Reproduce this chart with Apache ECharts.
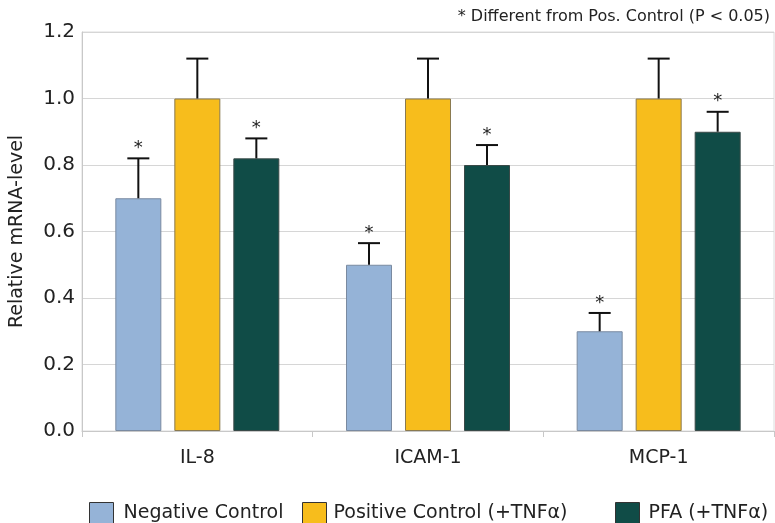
<!DOCTYPE html>
<html>
<head>
<meta charset="utf-8">
<script src="https://cdn.jsdelivr.net/npm/echarts@6/dist/echarts.min.js"></script>
<style>html,body{margin:0;padding:0;background:#fff;}#c{width:775px;height:523px;}</style>
</head>
<body>
<div id="c"></div>
<script>
var categories = ['IL-8', 'ICAM-1', 'MCP-1'];
var seriesNames = ['Negative Control', 'Positive Control (+TNFα)', 'PFA (+TNFα)'];
var negative = [0.70, 0.50, 0.30];
var positive = [1.00, 1.00, 1.00];
var pfa = [0.82, 0.80, 0.90];
var negativeErr = [0.12, 0.065, 0.055];
var positiveErr = [0.12, 0.12, 0.12];
var pfaErr = [0.06, 0.06, 0.06];
var negativeSig = [1, 1, 1];
var positiveSig = [0, 0, 0];
var pfaSig = [1, 1, 1];
var yTicks = ['0.0', '0.2', '0.4', '0.6', '0.8', '1.0', '1.2'];

var colors = ['#95b3d7', '#f7bd1c', '#104c47'];
var borders = ['#7a8aa0', '#8a7a50', '#3a4a48'];
var FONT = 'DejaVu Sans';
var BAR_W = 46, BAR_GAP = 13;

var values = [negative, positive, pfa];
var errs = [negativeErr, positiveErr, pfaErr];
var sigs = [negativeSig, positiveSig, pfaSig];

function errSeries(k) {
  var data = categories.map(function (c, i) {
    return [i, values[k][i], values[k][i] + errs[k][i], sigs[k][i]];
  });
  return {
    type: 'custom',
    name: seriesNames[k] + ' err',
    z: 10,
    silent: true,
    data: data,
    renderItem: function (params, api) {
      var i = api.value(0);
      var base = api.coord([i, api.value(1)]);
      var top = api.coord([i, api.value(2)]);
      var off = (k - 1) * (BAR_W + BAR_GAP);
      var x = base[0] + off;
      var children = [
        { type: 'line', shape: { x1: x, y1: base[1], x2: x, y2: top[1] }, style: { stroke: '#111', lineWidth: 2 } },
        { type: 'line', shape: { x1: x - 11, y1: top[1], x2: x + 11, y2: top[1] }, style: { stroke: '#111', lineWidth: 2 } }
      ];
      if (api.value(3)) {
        children.push({ type: 'text', style: { text: '*', x: x, y: top[1] - 1, align: 'center', verticalAlign: 'bottom', font: '18px ' + FONT, fill: '#222' } });
      }
      return { type: 'group', children: children };
    }
  };
}

var series = [];
for (var k = 0; k < 3; k++) {
  series.push({
    type: 'bar',
    name: seriesNames[k],
    data: values[k],
    barWidth: BAR_W,
    barGap: (BAR_GAP / BAR_W * 100) + '%',
    itemStyle: { color: colors[k], borderColor: borders[k], borderWidth: 1 },
    silent: true
  });
}
for (var k2 = 0; k2 < 3; k2++) series.push(errSeries(k2));

function legendFor(idx, left, gap) {
  return {
    data: [seriesNames[idx]],
    left: left, top: 497, itemWidth: 24, itemHeight: 22, icon: 'rect',
    itemStyle: { borderColor: '#333', borderWidth: 1 },
    textStyle: { fontFamily: FONT, fontSize: 19, color: '#222', padding: [0, 0, 0, gap] }
  };
}

var chart = echarts.init(document.getElementById('c'), null, { renderer: 'canvas' });
chart.setOption({
  animation: false,
  backgroundColor: '#fff',
  textStyle: { fontFamily: FONT },
  grid: { left: 82, right: 1, top: 32, bottom: 92, show: true, borderColor: '#dcdcdc', borderWidth: 1, containLabel: false, outerBoundsMode: 'none' },
  title: {
    text: '* Different from Pos. Control (P < 0.05)',
    right: 0, top: 4,
    textStyle: { fontFamily: FONT, fontSize: 16, fontWeight: 'normal', color: '#222' }
  },
  legend: [legendFor(0, 84, 5), legendFor(1, 297, 2), legendFor(2, 610, 4)],
  xAxis: {
    type: 'category',
    data: categories,
    axisLine: { lineStyle: { color: '#c8c8c8', width: 1 } },
    axisTick: { show: true, length: 6, lineStyle: { color: '#c8c8c8' } },
    axisLabel: { fontFamily: FONT, fontSize: 19, color: '#222', margin: 18 }
  },
  yAxis: {
    type: 'value',
    min: 0, max: 1.2, interval: 0.2,
    name: 'Relative mRNA-level',
    nameLocation: 'middle',
    nameGap: 55,
    nameTextStyle: { fontFamily: FONT, fontSize: 19, color: '#222' },
    axisLine: { show: true, lineStyle: { color: '#c8c8c8' } },
    axisTick: { show: false },
    splitLine: { lineStyle: { color: '#d6d6d6' } },
    axisLabel: {
      fontFamily: FONT, fontSize: 20, color: '#222', margin: 7,
      formatter: function (v) { return yTicks[Math.round(v / 0.2)]; }
    }
  },
  series: series
});
</script>
</body>
</html>
